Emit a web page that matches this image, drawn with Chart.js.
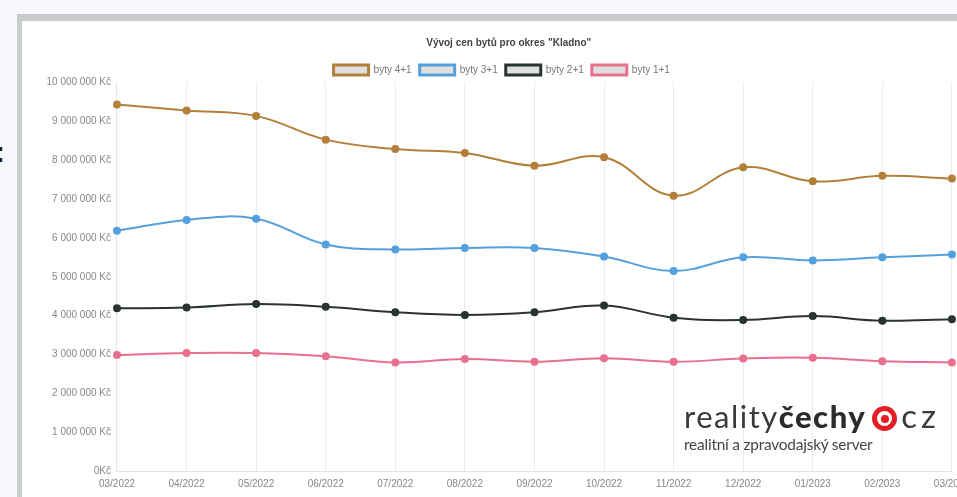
<!DOCTYPE html>
<html lang="cs">
<head>
<meta charset="utf-8">
<title>Vývoj cen bytů pro okres "Kladno"</title>
<script src="https://cdn.jsdelivr.net/npm/chart.js@4/dist/chart.umd.min.js"></script>
<style>
  html, body { margin: 0; padding: 0; }
  body {
    width: 957px; height: 497px; overflow: hidden; position: relative;
    background: #f7f9fc; font-family: "Liberation Sans", Arial, sans-serif;
  }
  .frame {
    position: absolute; left: 17px; top: 14px; width: 1000px; height: 520px;
    border-top: 7px solid #c8cccb; border-left: 5px solid #c8cccb;
    background: #ffffff;
  }
  .edge-mark {
    position: absolute; left: -5px; top: 137px; font: bold 30px/1 "Liberation Sans", Arial, sans-serif;
    color: #1a1a1a;
  }
  #wrap { position: absolute; left: 22px; top: 21px; }
  .logo {
    position: absolute; left: 684px; top: 398px; white-space: nowrap;
    font-family: "Lato", "Open Sans", sans-serif; color: #3a3a3a;
  }
  .logo .main { font-size: 31px; line-height: 34px; letter-spacing: 1.5px; }
  .logo .main b { font-weight: 900; color: #2b2b2b; }
  .logo .main .cz { letter-spacing: 4px; font-size: 33px; }
  .logo .target {
    display: inline-block; position: relative; width: 25px; height: 25px; border-radius: 50%;
    background: #e31e24; vertical-align: -3px; margin: 0 4px 0 6px;
  }
  .logo .target::before {
    content: ""; position: absolute; left: 5px; top: 5px; width: 15px; height: 15px;
    border-radius: 50%; background: #fff;
  }
  .logo .target::after {
    content: ""; position: absolute; left: 8.5px; top: 8.5px; width: 8px; height: 8px;
    border-radius: 50%; background: #e31e24;
  }
  .logo .sub { font-size: 15.4px; line-height: 18px; color: #444; margin-top: 2px; letter-spacing: -0.2px; }
</style>
</head>
<body>
<div class="edge-mark">:</div>
<div class="frame"></div>
<div id="wrap"><canvas id="chart" width="955" height="487"></canvas></div>
<div class="logo">
  <div class="main">reality<b>čechy</b><span class="target"></span><span class="cz">cz</span></div>
  <div class="sub">realitní a zpravodajský server</div>
</div>
<script>
// Months on the x axis
const months = ['03/2022', '04/2022', '05/2022', '06/2022', '07/2022', '08/2022', '09/2022',
                '10/2022', '11/2022', '12/2022', '01/2023', '02/2023', '03/2023'];

// Average flat prices (Kč) per layout
const byty41 = [9420000, 9270000, 9130000, 8520000, 8280000, 8180000, 7850000,
                8070000, 7080000, 7810000, 7450000, 7590000, 7520000];
const byty31 = [6180000, 6460000, 6490000, 5830000, 5700000, 5740000, 5740000,
                5520000, 5150000, 5500000, 5420000, 5500000, 5570000];
const byty21 = [4190000, 4210000, 4300000, 4230000, 4090000, 4020000, 4090000,
                4260000, 3950000, 3890000, 3990000, 3870000, 3910000];
const byty11 = [2990000, 3040000, 3040000, 2960000, 2800000, 2890000, 2820000,
                2910000, 2820000, 2900000, 2920000, 2830000, 2800000];

// Y axis tick labels, from 0 to 10 mil. Kč
const yTickLabels = ['0Kč', '1 000 000 Kč', '2 000 000 Kč', '3 000 000 Kč', '4 000 000 Kč',
                     '5 000 000 Kč', '6 000 000 Kč', '7 000 000 Kč', '8 000 000 Kč',
                     '9 000 000 Kč', '10 000 000 Kč'];

const seriesNames = ['byty 4+1', 'byty 3+1', 'byty 2+1', 'byty 1+1'];
const seriesColors = ['rgb(178,128,56)', 'rgb(84,160,222)', 'rgb(42,52,47)', 'rgb(232,112,142)'];
const seriesData = [byty41, byty31, byty21, byty11];

Chart.defaults.font.family = '"Liberation Sans", Arial, sans-serif';
Chart.defaults.font.size = 10;

const datasets = seriesData.map((data, i) => ({
  label: seriesNames[i],
  data: data,
  borderColor: seriesColors[i],
  backgroundColor: 'rgba(0,0,0,0.12)',
  pointBackgroundColor: seriesColors[i],
  pointBorderColor: seriesColors[i],
  pointRadius: 3,
  borderWidth: 2,
  tension: 0.4,
  fill: false
}));

// Nudge the legend row a little left and down from its default slot
const legendNudge = {
  id: 'legendNudge',
  afterLayout(chart) {
    const lg = chart.legend;
    if (!lg) return;
    lg.left -= 7; lg.right -= 7;
    lg.top += 3; lg.bottom += 3;
  }
};

new Chart(document.getElementById('chart'), {
  type: 'line',
  data: { labels: months, datasets: datasets },
  plugins: [legendNudge],
  options: {
    responsive: false,
    animation: false,
    devicePixelRatio: 1,
    layout: { padding: { left: 18.5, right: 0, top: 0, bottom: 10.5 } },
    plugins: {
      title: {
        display: true,
        text: 'Vývoj cen bytů pro okres "Kladno"',
        color: '#444',
        font: { size: 10, weight: 'bold' },
        padding: { top: 16, bottom: 5 }
      },
      legend: {
        labels: {
          boxWidth: 35,
          boxHeight: 10,
          padding: 8,
          color: '#777',
          generateLabels(chart) {
            const items = Chart.defaults.plugins.legend.labels.generateLabels(chart);
            items.forEach(it => { it.lineWidth = 3; });
            return items;
          }
        }
      },
      tooltip: { enabled: false }
    },
    scales: {
      x: {
        grid: { display: true, color: '#ececec', drawTicks: false },
        border: { display: true, color: '#e4e4e4' },
        ticks: { color: '#888', padding: 7, maxRotation: 0, autoSkip: false }
      },
      y: {
        min: 0,
        max: 10000000,
        grid: { display: false, drawTicks: false },
        border: { display: true, color: '#e4e4e4' },
        ticks: {
          stepSize: 1000000,
          color: '#888',
          padding: 6,
          callback: (v) => yTickLabels[Math.round(v / 1000000)]
        }
      }
    }
  }
});
</script>
</body>
</html>
